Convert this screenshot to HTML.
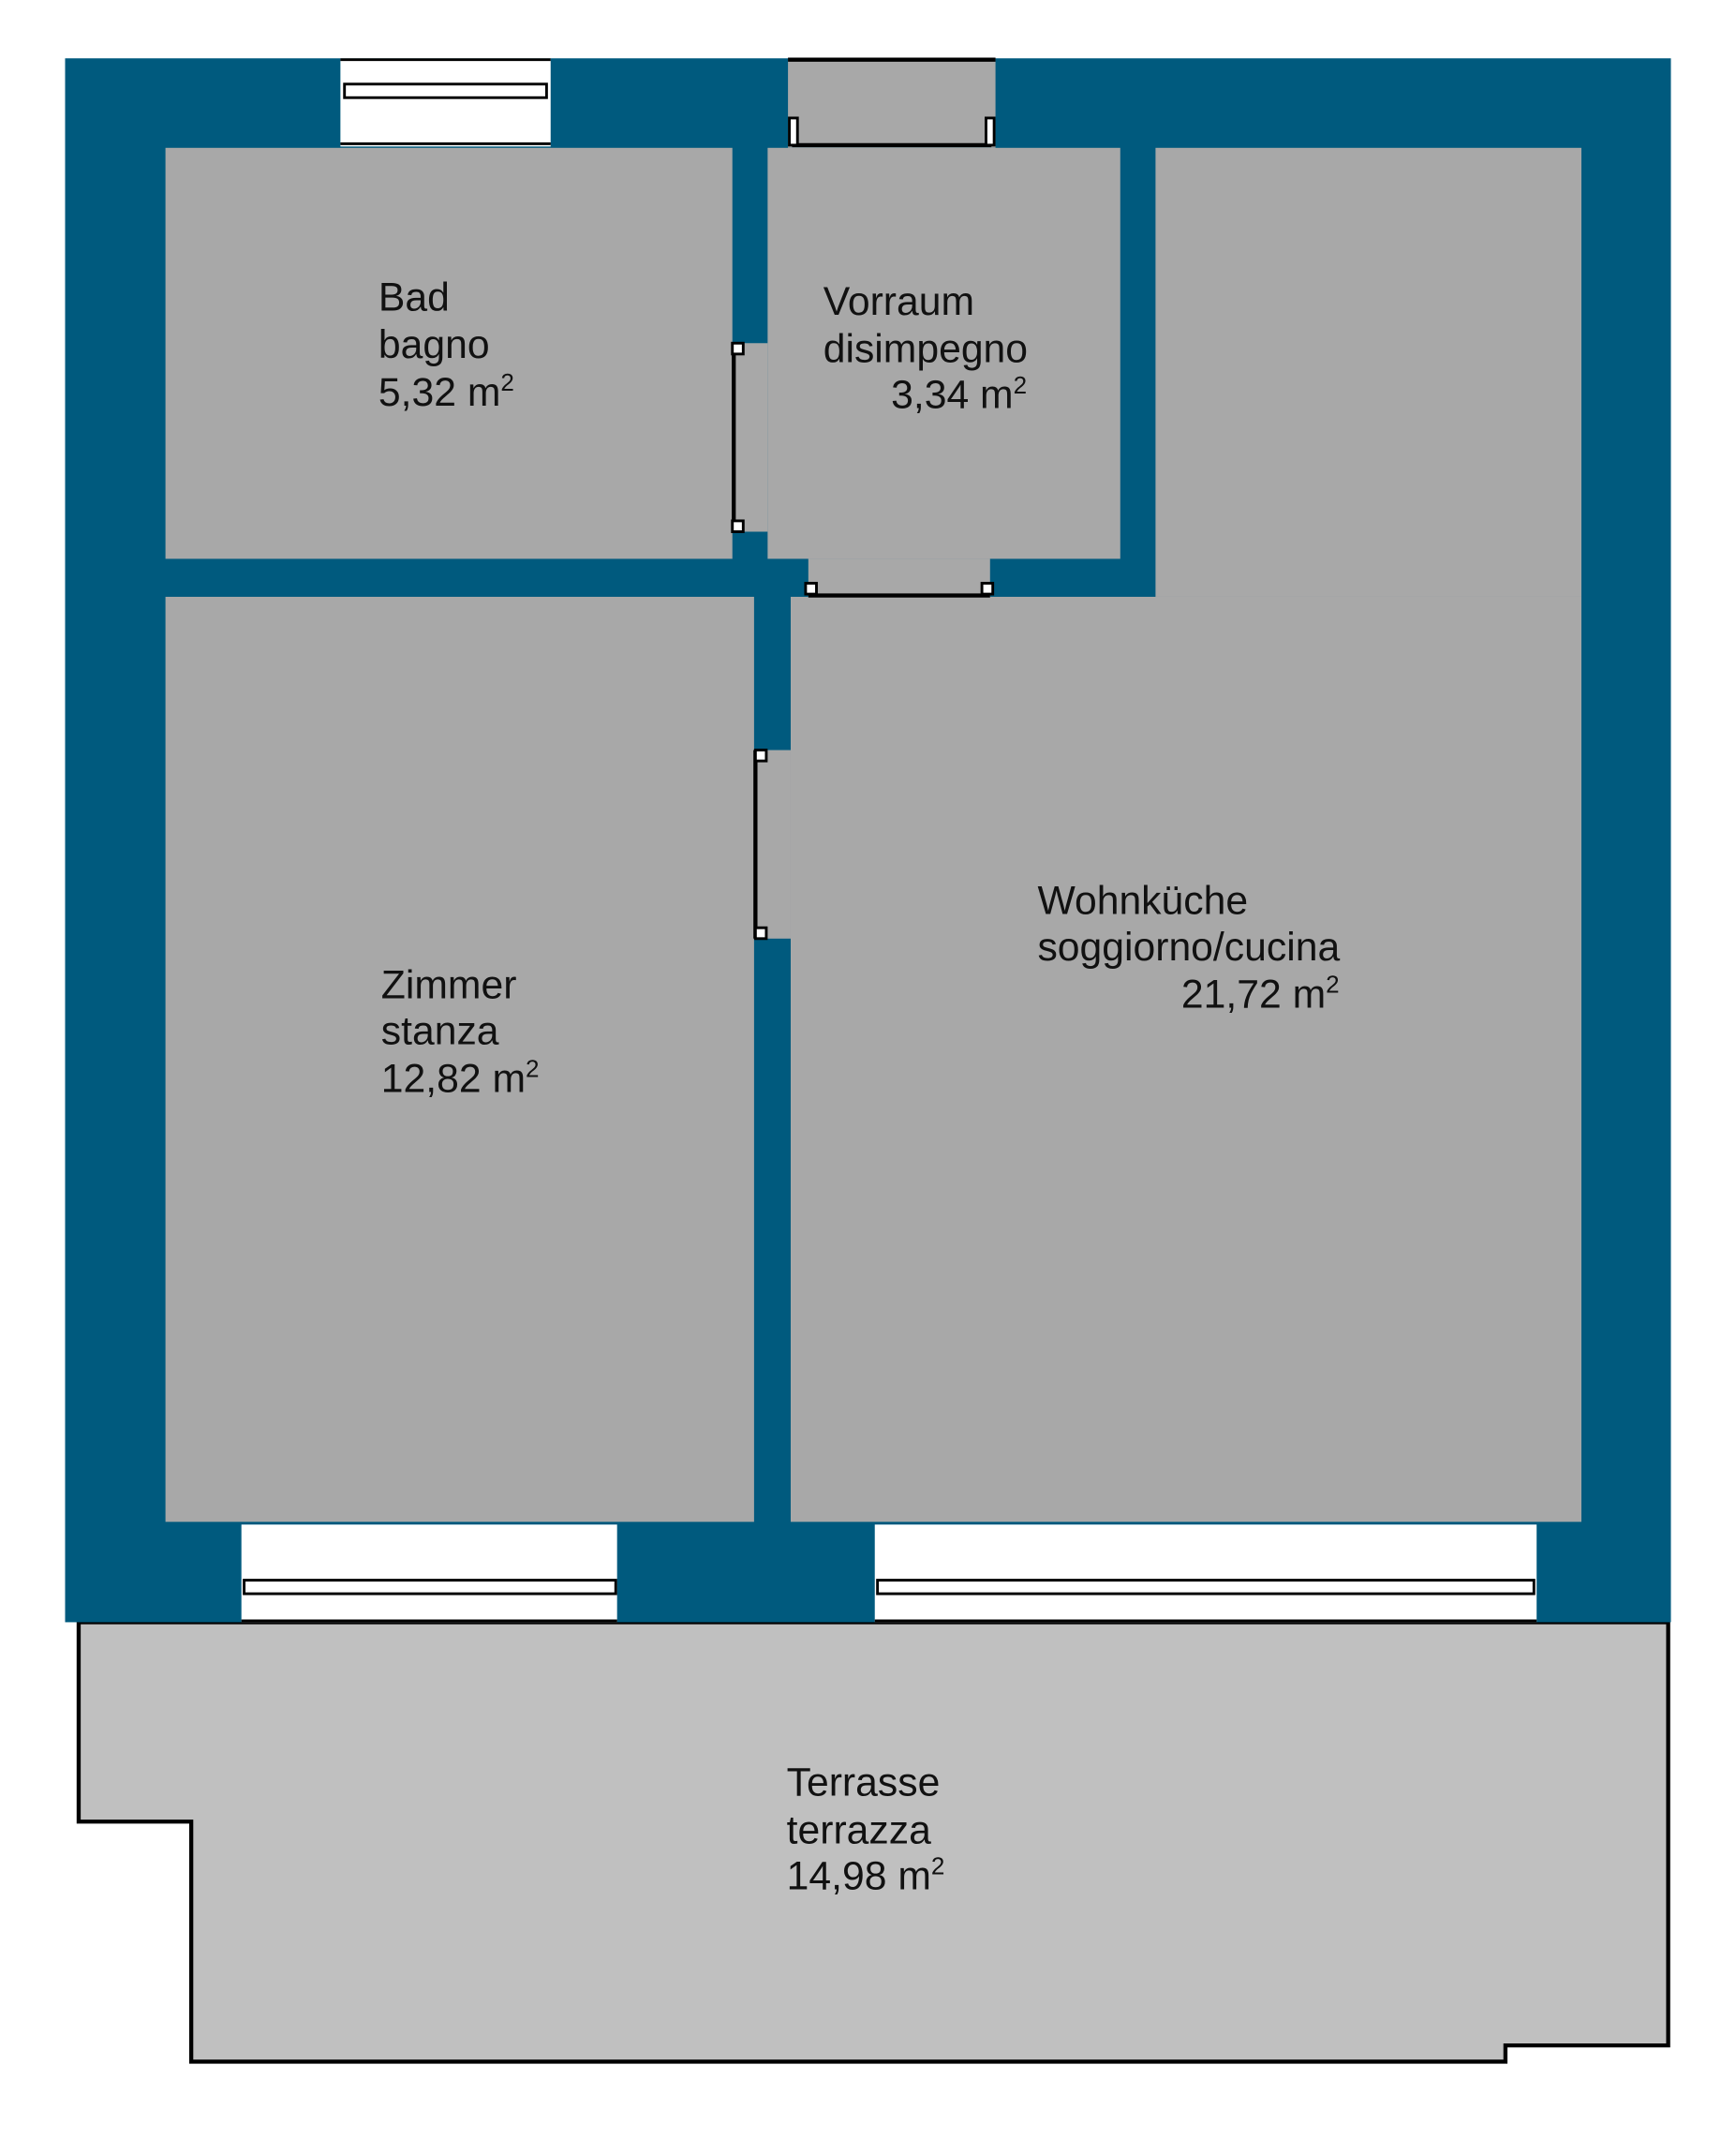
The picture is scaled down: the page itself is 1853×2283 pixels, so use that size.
<!DOCTYPE html>
<html><head><meta charset="utf-8"><style>
html,body{margin:0;padding:0;background:#fff;width:1853px;height:2283px;overflow:hidden}
svg{display:block}
text{font-family:"Liberation Sans",Arial,sans-serif;font-size:29.5px;fill:#111}
</style></head><body>
<svg width="1853" height="2283" viewBox="0 0 1280 1577" preserveAspectRatio="none" xmlns="http://www.w3.org/2000/svg">
<polygon points="58,1196 58,1343 141,1343 141,1520 1110,1520 1110,1508 1230,1508 1230,1196" fill="#c0c0c0" stroke="#000" stroke-width="3"/>
<rect x="48" y="43" width="1184" height="1153" fill="#005a7e"/>
<rect x="122" y="109" width="418" height="303" fill="#a8a8a8"/>
<rect x="566" y="109" width="260" height="303" fill="#a8a8a8"/>
<rect x="852" y="109" width="314" height="331" fill="#a8a8a8"/>
<rect x="583" y="440" width="583" height="682" fill="#a8a8a8"/>
<rect x="122" y="440" width="434" height="682" fill="#a8a8a8"/>
<rect x="540" y="253" width="26" height="139" fill="#a8a8a8"/>
<line x1="541" y1="253" x2="541" y2="392" stroke="#000" stroke-width="3"/>
<rect x="540" y="253" width="8" height="8" fill="#fff" stroke="#000" stroke-width="2"/>
<rect x="540" y="384" width="8" height="8" fill="#fff" stroke="#000" stroke-width="2"/>
<rect x="596" y="412" width="134" height="28" fill="#a8a8a8"/>
<line x1="596" y1="439" x2="730" y2="439" stroke="#000" stroke-width="3"/>
<rect x="594" y="430" width="8" height="8" fill="#fff" stroke="#000" stroke-width="2"/>
<rect x="724" y="430" width="8" height="8" fill="#fff" stroke="#000" stroke-width="2"/>
<rect x="556" y="553" width="27" height="139" fill="#a8a8a8"/>
<line x1="557" y1="553" x2="557" y2="692" stroke="#000" stroke-width="3"/>
<rect x="557" y="553" width="8" height="8" fill="#fff" stroke="#000" stroke-width="2"/>
<rect x="557" y="684" width="8" height="8" fill="#fff" stroke="#000" stroke-width="2"/>
<rect x="581" y="43" width="153" height="66" fill="#a8a8a8"/>
<line x1="581" y1="44" x2="734" y2="44" stroke="#000" stroke-width="3"/>
<line x1="584" y1="107" x2="731" y2="107" stroke="#000" stroke-width="3"/>
<rect x="582" y="87" width="6" height="20" fill="#fff" stroke="#000" stroke-width="2"/>
<rect x="727" y="87" width="6" height="20" fill="#fff" stroke="#000" stroke-width="2"/>
<rect x="251" y="43" width="155" height="65" fill="#fff"/>
<line x1="251" y1="44" x2="406" y2="44" stroke="#000" stroke-width="2"/>
<line x1="251" y1="106" x2="406" y2="106" stroke="#000" stroke-width="2"/>
<rect x="254" y="62" width="149" height="10" fill="#fff" stroke="#000" stroke-width="2"/>
<rect x="178" y="1124" width="277" height="72" fill="#fff"/>
<rect x="180" y="1165" width="274" height="10" fill="#fff" stroke="#000" stroke-width="2"/>
<line x1="178" y1="1195" x2="455" y2="1195" stroke="#000" stroke-width="2"/>
<rect x="645" y="1124" width="488" height="72" fill="#fff"/>
<rect x="647" y="1165" width="484" height="10" fill="#fff" stroke="#000" stroke-width="2"/>
<line x1="645" y1="1195" x2="1133" y2="1195" stroke="#000" stroke-width="2"/>
<text x="279" y="229">Bad</text>
<text x="279" y="264">bagno</text>
<text x="279" y="299">5,32 m<tspan font-size="18" dy="-11">2</tspan></text>
<text x="607" y="232">Vorraum</text>
<text x="607" y="267">disimpegno</text>
<text x="657" y="301">3,34 m<tspan font-size="18" dy="-11">2</tspan></text>
<text x="765" y="674">Wohnküche</text>
<text x="765" y="708">soggiorno/cucina</text>
<text x="871" y="743">21,72 m<tspan font-size="18" dy="-11">2</tspan></text>
<text x="281" y="736">Zimmer</text>
<text x="281" y="770">stanza</text>
<text x="281" y="805">12,82 m<tspan font-size="18" dy="-11">2</tspan></text>
<text x="580" y="1324">Terrasse</text>
<text x="580" y="1359">terrazza</text>
<text x="580" y="1393">14,98 m<tspan font-size="18" dy="-11">2</tspan></text>
</svg>
</body></html>
